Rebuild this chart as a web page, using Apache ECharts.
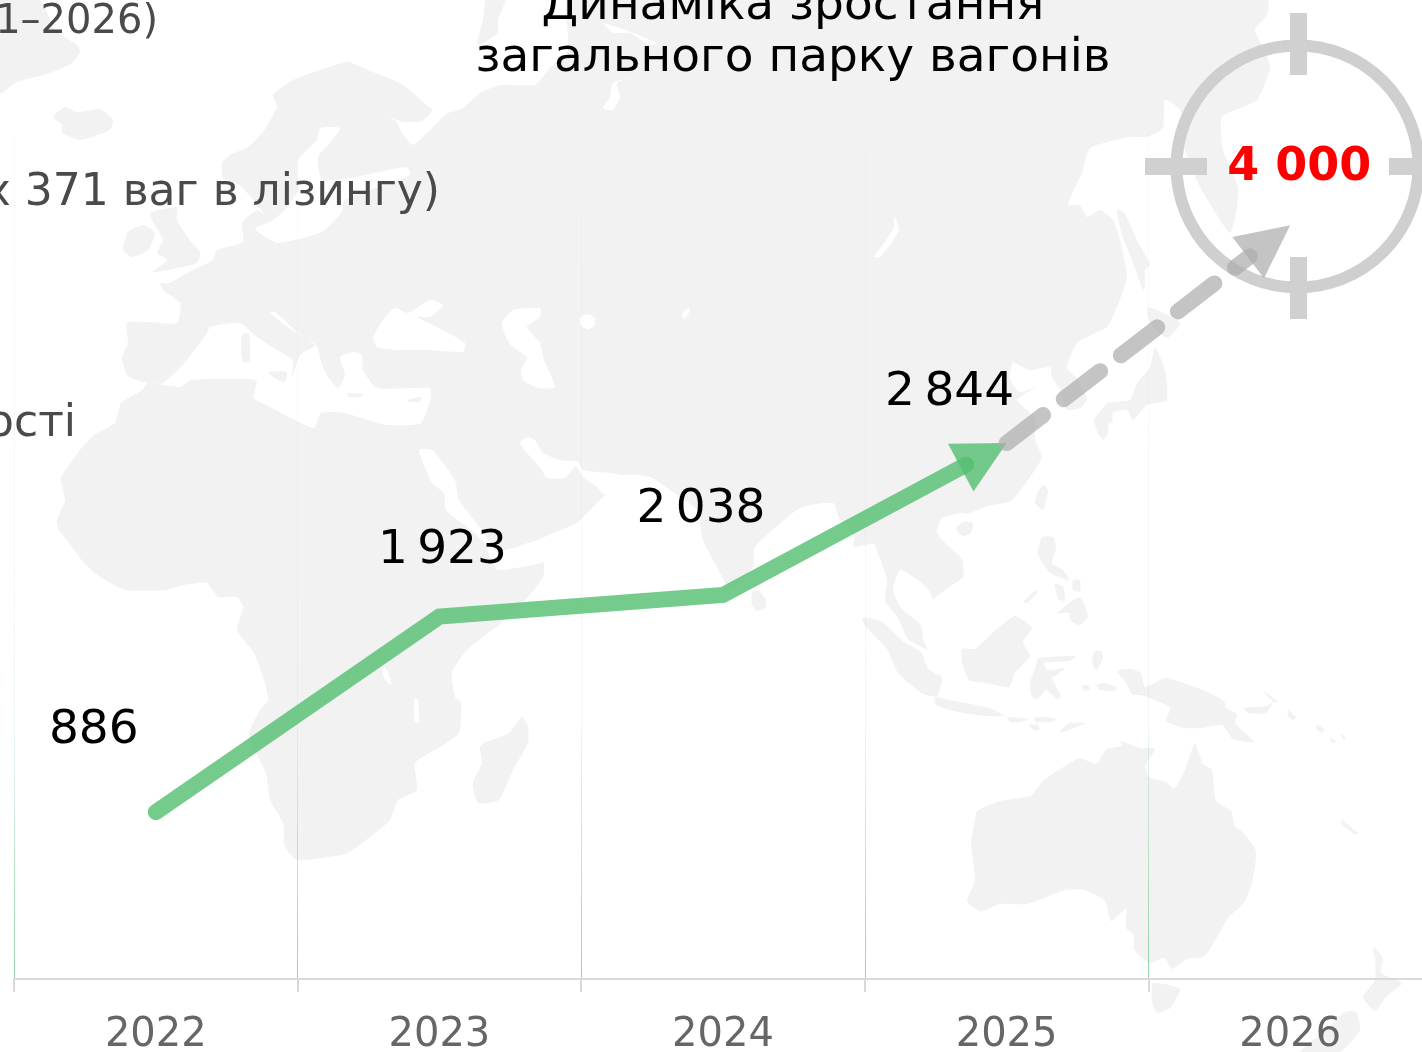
<!DOCTYPE html>
<html>
<head>
<meta charset="utf-8">
<style>
  html, body { margin: 0; padding: 0; background: #fff; overflow: hidden; }
  #chart { width: 1422px; height: 1052px; }
</style>
<script src="https://cdn.jsdelivr.net/npm/echarts@6/dist/echarts.min.js"></script>
</head>
<body>
<div id="chart"></div>
<script>
// дані графіка
var years = ['2022', '2023', '2024', '2025', '2026'];
var factValues = [886, 1923, 2038, 2844];
var planValues = [2844, 4000];
var allValues = [886, 1923, 2038, 2844, 4000];

// зсуви підписів відносно точок
var labelOffsets = [[-62, -81], [3, -66], [-22, -85], [-57, -50], [9, -57]];

var FONT = '"DejaVu Sans", Inter, sans-serif';

// фонова мапа: контури в пікселях сторінки
var landShapes = [
  // Гренландія, Ісландія, Британські острови
  [[0,0],[40,0],[55,30],[77,45],[80,52],[72,63],[50,73],[17,82],[0,93]],
  [[53,117],[65,107],[77,112],[100,109],[113,120],[110,130],[80,140],[62,133],[62,125]],
  [[123,250],[128,232],[143,225],[155,233],[148,250],[132,257]],
  [[150,213],[177,207],[177,220],[192,243],[200,252],[197,263],[153,272],[167,260],[157,253],[163,240],[153,222]],
  // Євразія та Африка одним контуром
  [[222,163],[230,155],[248,147],[263,132],[277,107],[273,95],[293,80],[347,62],[368,70],[403,85],[433,110],[447,113],[463,108],[480,93],[500,85],[535,85],[548,70],[568,50],[570,-5],
   [1267,-5],[1267,15],[1255,30],[1262,45],[1270,67],[1257,100],[1222,117],[1223,150],[1238,187],[1237,207],[1230,233],[1200,187],[1185,150],[1180,110],[1165,100],[1163,128],[1147,137],[1130,137],[1090,148],[1083,170],[1068,205],[1080,205],[1087,217],[1100,210],[1113,220],[1120,240],[1127,277],[1117,307],[1107,327],[1095,333],[1077,343],[1067,367],[1078,380],[1087,400],[1080,408],[1067,410],[1060,390],[1052,377],[1050,367],[1030,370],[1013,363],[1010,380],[1020,392],[1037,387],[1017,400],[1035,418],[1035,440],[1042,457],[1030,477],[1011,501],[988,506],[967,514],[962,513],[942,518],[937,532],[946,544],[962,559],[963,577],[946,589],[933,599],[929,590],[918,580],[900,570],[893,590],[902,609],[921,625],[923,639],[927,649],[908,639],[898,618],[885,601],[887,580],[879,556],[874,544],[854,547],[854,535],[839,518],[833,503],[800,508],[755,547],[753,567],[730,590],[725,583],[717,567],[703,540],[697,510],[677,495],[650,477],[623,475],[605,495],[593,507],[577,523],[553,533],[527,545],[500,552],[498,570],
   [543,562],[543,577],[528,597],[501,623],[467,650],[452,673],[455,697],[461,703],[459,733],[440,747],[415,763],[417,790],[398,800],[390,820],[375,833],[348,853],[329,857],[297,860],[285,847],[283,823],[270,800],[266,773],[256,753],[249,733],[260,710],[268,700],[264,680],[254,653],[237,630],[243,607],[237,597],[218,597],[207,583],[184,585],[165,590],[126,590],[100,577],[84,563],[69,543],[59,530],[57,520],[65,500],[61,478],[80,450],[94,435],[115,423],[121,403],[142,390],[147,382],
   [143,382],[127,375],[122,357],[128,343],[127,323],[150,322],[177,323],[180,303],[163,290],[160,283],[170,283],[180,277],[197,268],[213,260],[217,250],[243,242],[242,223],[257,210],[265,215],[253,200],[240,185],[223,178]],
  // Нова Земля
  [[477,43],[483,20],[487,-5],[507,-5],[498,20],[498,33],[480,45]]
];

// моря та озера поверх суходолу
var seaShapes = [
  // Біле море
  [[385,115],[403,122],[422,121],[433,110],[443,90],[462,95],[447,113],[427,133],[413,145],[402,133],[397,122]],
  // Балтика
  [[320,128],[340,128],[330,143],[318,157],[322,180],[350,178],[407,167],[410,175],[370,190],[345,200],[342,212],[322,232],[278,243],[262,235],[255,228],[270,222],[285,210],[298,190],[298,160],[317,140]],
  // Середземне море
  [[143,382],[163,383],[187,360],[207,333],[210,327],[240,323],[257,337],[277,350],[293,360],[292,378],[300,355],[316,345],[300,335],[285,325],[270,313],[275,312],[298,333],[317,347],[322,365],[330,380],[338,388],[345,375],[340,357],[353,352],[362,355],[363,370],[377,388],[430,388],[431,397],[421,423],[387,425],[344,413],[321,413],[314,428],[291,418],[272,408],[254,398],[256,380],[191,380],[180,387],[147,382]],
  // Чорне море
  [[373,338],[383,320],[395,308],[408,313],[430,300],[443,305],[430,317],[417,317],[437,327],[465,343],[463,352],[430,350],[397,350],[377,347]],
  // Каспій, Арал, Балхаш, Байкал
  [[502,323],[513,310],[540,308],[540,317],[527,327],[540,343],[544,360],[555,387],[538,388],[523,380],[521,370],[527,358],[509,343]],
  [[580,318],[587,314],[595,318],[594,326],[587,329],[581,326]],
  [[689,308],[690,311],[685,318],[682,317],[684,311]],
  [[894,215],[899,230],[890,245],[880,257],[874,257],[884,243],[894,227]],
  // Червоне море, Аденська затока
  [[419,450],[432,483],[444,493],[446,510],[471,530],[484,543],[494,565],[498,570],[543,562],[551,540],[528,543],[498,553],[482,530],[459,500],[455,480],[432,450]],
  // Перська та Оманська затоки
  [[528,437],[520,443],[533,460],[540,467],[547,478],[565,478],[576,466],[583,477],[597,487],[605,495],[625,476],[583,470],[578,462],[560,460],[543,453],[535,440]],
  // Обська губа
  [[603,23],[620,28],[657,43],[650,45],[630,33],[613,33]],
  [[633,77],[617,83],[620,97],[613,110],[603,108],[610,97],[613,83]],
  // озера Африки
  [[383,667],[387,670],[392,685],[388,683],[383,675]],
  [[415,698],[418,700],[419,723],[415,722],[414,710]]
];

// острови поверх морів
var islandShapes = [
  [[242,335],[249,333],[250,345],[250,362],[243,362],[241,350]],
  [[268,372],[287,372],[285,382],[276,379]],
  [[347,393],[363,394],[361,397],[349,397]],
  [[407,400],[422,397],[419,402],[409,402]],
  [[522,717],[528,727],[528,743],[513,770],[499,800],[478,803],[473,783],[482,763],[480,747],[486,742],[509,733]],
  [[752,592],[758,590],[766,600],[765,608],[757,611],[752,605]],
  // Сахалін, Японія, Тайвань, Хайнань
  [[1117,210],[1124,212],[1137,240],[1150,265],[1145,270],[1145,285],[1143,290],[1132,260],[1122,235]],
  [[1148,307],[1180,323],[1167,338],[1150,323]],
  [[1155,347],[1165,370],[1167,400],[1147,405],[1133,420],[1127,410],[1113,413],[1112,423],[1093,422],[1108,403],[1130,400],[1137,383],[1150,367]],
  [[1095,423],[1108,420],[1108,433],[1103,440],[1098,433]],
  [[1043,485],[1048,490],[1043,510],[1035,503],[1038,492]],
  [[956,528],[963,522],[973,523],[971,533],[962,536]],
  // Філіппіни
  [[1042,537],[1053,537],[1056,549],[1052,563],[1063,570],[1069,580],[1050,573],[1038,554]],
  [[1057,613],[1080,597],[1088,616],[1080,625],[1071,621],[1069,613]],
  [[1055,583],[1063,587],[1065,601],[1058,599]],
  [[1073,580],[1080,580],[1080,592],[1073,590]],
  [[1023,602],[1036,590],[1038,592],[1027,603]],
  // Індонезія
  [[862,618],[881,621],[893,632],[904,642],[921,652],[929,670],[942,677],[937,696],[923,694],[898,673],[887,649],[866,627]],
  [[935,697],[954,701],[971,704],[990,708],[1004,716],[988,716],[969,714],[946,709],[935,704]],
  [[962,649],[975,649],[985,640],[998,628],[1015,616],[1032,628],[1023,642],[1030,656],[1015,673],[1009,687],[985,683],[969,680],[962,663]],
  [[1038,658],[1076,656],[1069,661],[1044,663],[1048,670],[1065,668],[1057,675],[1052,678],[1061,696],[1057,699],[1046,690],[1038,699],[1032,697],[1030,683],[1036,666]],
  [[1094,652],[1101,651],[1103,659],[1096,670],[1092,663]],
  [[1096,685],[1105,683],[1117,688],[1115,691],[1100,690]],
  [[1082,686],[1088,685],[1090,689],[1084,691]],
  [[1059,733],[1069,723],[1086,723],[1069,730]],
  [[1007,717],[1029,719],[1020,722],[1010,722]],
  [[1034,718],[1045,717],[1057,719],[1050,722],[1036,722]],
  [[1029,725],[1038,725],[1040,730],[1034,730]],
  // Нова Гвінея та острови
  [[1117,671],[1130,669],[1141,673],[1145,687],[1166,678],[1203,690],[1224,701],[1226,708],[1237,714],[1235,723],[1254,742],[1233,739],[1222,725],[1203,728],[1184,728],[1166,721],[1170,708],[1145,696],[1132,694],[1126,683]],
  [[1243,708],[1266,706],[1273,702],[1266,713],[1249,713]],
  [[1264,691],[1277,701],[1275,703],[1266,695]],
  [[1288,710],[1296,717],[1293,720],[1288,716]],
  [[1317,725],[1324,729],[1322,733],[1316,729]],
  [[1330,738],[1336,741],[1332,743]],
  [[1340,733],[1346,738],[1344,740]],
  // Австралія, Тасманія
  [[977,811],[1000,801],[1030,796],[1044,780],[1065,766],[1080,758],[1096,764],[1107,749],[1122,746],[1120,741],[1140,748],[1155,749],[1145,766],[1149,777],[1166,782],[1174,789],[1185,770],[1195,743],[1203,764],[1212,770],[1216,801],[1231,811],[1235,827],[1243,832],[1256,851],[1252,883],[1243,904],[1228,918],[1205,956],[1187,959],[1172,969],[1164,958],[1149,963],[1134,949],[1134,935],[1126,928],[1126,909],[1111,921],[1105,901],[1084,890],[1065,890],[1027,904],[1000,904],[981,911],[967,902],[975,880],[971,842],[975,821]],
  [[1153,983],[1180,989],[1170,1008],[1157,1013],[1152,1001]],
  // Нова Каледонія, Нова Зеландія
  [[1342,820],[1358,833],[1356,835],[1342,825]],
  [[1373,947],[1383,958],[1381,973],[1402,983],[1386,997],[1375,1011],[1363,997],[1375,980],[1375,959]],
  [[1356,1012],[1360,1030],[1340,1052],[1300,1052],[1320,1035],[1345,1012]]
];

function polygons(list, color, z) {
  return list.map(function (pts) {
    return { type: 'polygon', z: z, silent: true, shape: { points: pts, smooth: 0.18 }, style: { fill: color } };
  });
}

// лінія зі стрілкою на кінці, будується через координати осей
function arrowSeries(startIndex, values, opt) {
  return {
    type: 'custom',
    silent: true,
    clip: false,
    z: 3,
    encode: { x: 0, y: 1 },
    data: values.map(function (v, i) { return [startIndex + i, v]; }),
    renderItem: function (params, api) {
      if (params.dataIndex !== 0) return null;
      var pts = values.map(function (v, i) { return api.coord([startIndex + i, v]); });
      var tip = pts[pts.length - 1];
      var prev = pts[pts.length - 2];
      var dx = tip[0] - prev[0], dy = tip[1] - prev[1];
      var len = Math.sqrt(dx * dx + dy * dy);
      var ux = dx / len, uy = dy / len;
      var linePts = pts.slice(0, -1);
      linePts.push([tip[0] - ux * opt.shorten, tip[1] - uy * opt.shorten]);
      var bx = tip[0] - ux * opt.head, by = tip[1] - uy * opt.head;
      return {
        type: 'group',
        children: [{
          type: 'polyline',
          shape: { points: linePts },
          style: { fill: null, stroke: opt.color, lineWidth: 16, lineCap: 'round', lineJoin: 'miter', lineDash: opt.dash || null }
        }, {
          type: 'polygon',
          shape: { points: [tip, [bx - uy * opt.half, by + ux * opt.half], [bx + uy * opt.half, by - ux * opt.half]] },
          style: { fill: opt.color }
        }]
      };
    }
  };
}

var ring = [
  { type: 'circle', z: 1, silent: true, shape: { cx: 1297.5, cy: 166.5, r: 121 }, style: { fill: null, stroke: '#cfcfcf', lineWidth: 12 } },
  { type: 'rect', z: 1, silent: true, shape: { x: 1290, y: 13, width: 17, height: 62 }, style: { fill: '#d0d0d0' } },
  { type: 'rect', z: 1, silent: true, shape: { x: 1290, y: 257, width: 17, height: 62 }, style: { fill: '#d0d0d0' } },
  { type: 'rect', z: 1, silent: true, shape: { x: 1145, y: 158, width: 62, height: 17 }, style: { fill: '#d0d0d0' } },
  { type: 'rect', z: 1, silent: true, shape: { x: 1389, y: 158, width: 62, height: 17 }, style: { fill: '#d0d0d0' } }
];

function sideText(text, x, y, size) {
  return {
    type: 'text', z: 5, silent: true, x: x, y: y,
    style: { text: text, fill: '#4a4a4a', font: size + 'px ' + FONT, textAlign: 'right', textVerticalAlign: 'middle' }
  };
}

var myChart = echarts.init(document.getElementById('chart'));
myChart.setOption({
  animation: false,
  title: {
    text: 'Динаміка зростання\nзагального парку вагонів',
    left: 793,
    top: -19,
    padding: 0,
    textAlign: 'center',
    textStyle: { color: '#000', fontFamily: FONT, fontSize: 47, fontWeight: 400, lineHeight: 52 }
  },
  graphic: polygons(landShapes, '#f2f2f2', -30)
    .concat(polygons(seaShapes, '#ffffff', -20))
    .concat(polygons(islandShapes, '#f2f2f2', -10))
    .concat(ring)
    .concat([
      sideText('1–2026)', 158, 23, 40),
      sideText('х 371 ваг в лізингу)', 440, 194, 44),
      sideText('ості', 76, 425, 44)
    ]),
  grid: { left: 14, top: 131, right: -10, bottom: 73, outerBoundsMode: 'none' },
  xAxis: {
    type: 'category',
    data: years,
    boundaryGap: true,
    axisLine: { lineStyle: { color: '#d9d9d9', width: 2 } },
    axisTick: { show: true, length: 13, lineStyle: { color: '#d9d9d9', width: 2 } },
    axisLabel: { color: '#666666', fontFamily: FONT, fontSize: 40, margin: 37, interval: 0 },
    splitLine: {
      show: true,
      interval: 0,
      lineStyle: {
        width: 1,
        color: {
          type: 'linear', x: 0, y: 125, x2: 0, y2: 979, global: true,
          colorStops: [
            { offset: 0, color: 'rgba(120,200,150,0.04)' },
            { offset: 0.7, color: 'rgba(120,200,150,0.12)' },
            { offset: 1, color: 'rgba(110,200,140,0.75)' }
          ]
        }
      }
    }
  },
  yAxis: {
    type: 'value',
    min: 0,
    max: 4500,
    interval: 500,
    show: false,
    splitLine: { show: false }
  },
  series: [
    arrowSeries(0, factValues, { color: 'rgba(82,190,111,0.8)', shorten: 46, head: 52, half: 27 }),
    arrowSeries(3, planValues, { color: 'rgba(171,171,171,0.7)', shorten: 51, head: 53, half: 26, dash: [46, 26] }),
    {
      type: 'scatter',
      silent: true,
      z: 6,
      symbolSize: 1,
      itemStyle: { color: 'transparent', opacity: 1 },
      data: allValues.map(function (v, i) {
        var last = i === allValues.length - 1;
        return {
          value: [i, v],
          label: {
            show: true,
            position: 'inside',
            offset: labelOffsets[i],
            // вузький пробіл у чорних підписах, звичайний у червоному
            formatter: String(v).replace(/\B(?=(\d{3})+$)/g, last ? ' ' : '\u2009'),
            color: last ? '#ff0000' : '#000',
            fontFamily: FONT,
            fontSize: last ? 46 : 47,
            fontWeight: last ? 700 : 400
          }
        };
      })
    }
  ]
});
</script>
</body>
</html>
